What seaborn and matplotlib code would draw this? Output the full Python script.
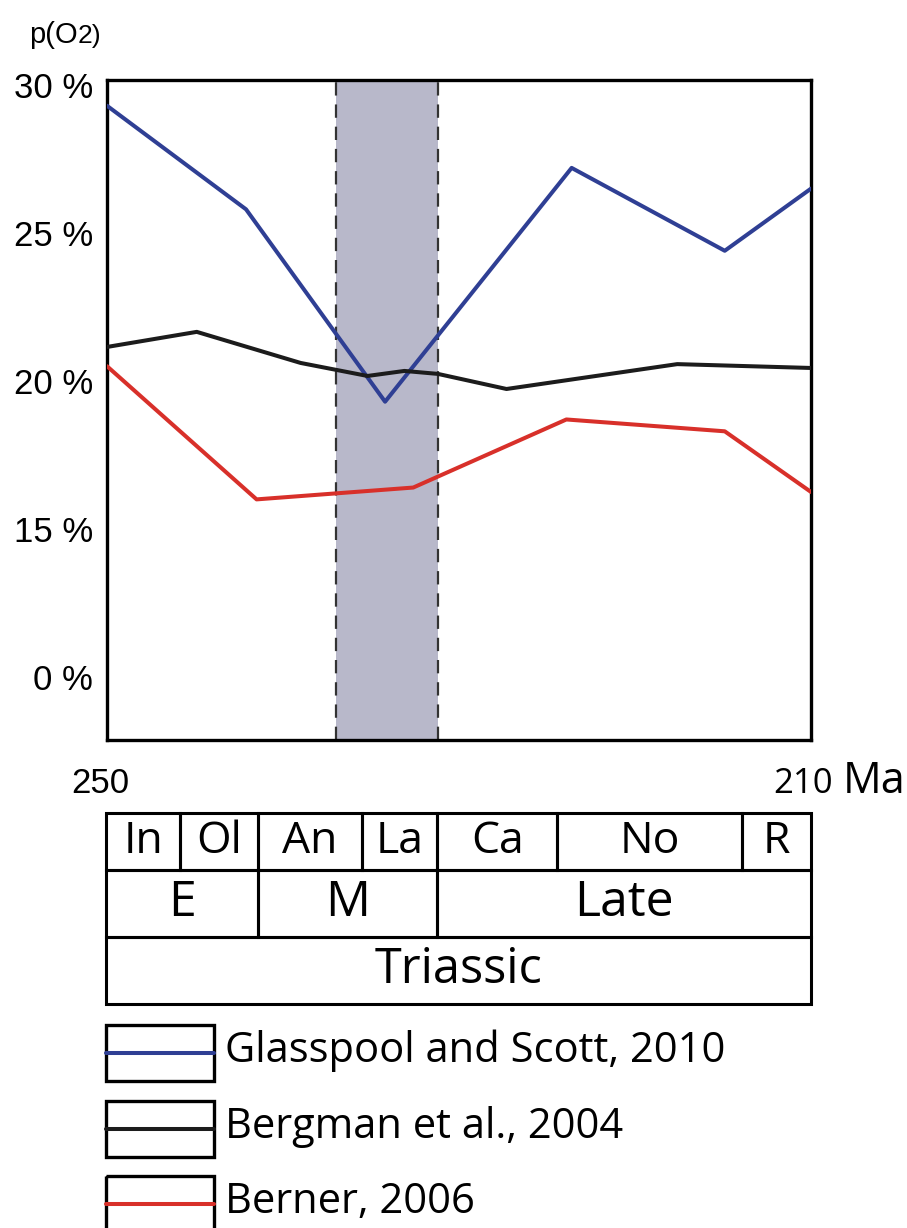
import numpy as np
import pandas as pd
import matplotlib
matplotlib.use("Agg")
import matplotlib.pyplot as plt
import seaborn as sns
from matplotlib.patches import Rectangle

# O2 curves, age in Ma, value in %
glasspool_age = [250, 242.1, 234.2, 223.6, 214.9, 210]
glasspool_o2 = [29.3, 25.8, 19.3, 27.2, 24.4, 26.5]
bergman_age = [250, 244.9, 239.0, 235.2, 233.1, 231.2, 227.3, 217.6, 210]
bergman_o2 = [21.15, 21.66, 20.61, 20.17, 20.34, 20.24, 19.73, 20.57, 20.44]
berner_age = [250, 241.5, 232.6, 223.9, 214.9, 210]
berner_o2 = [20.5, 16.0, 16.4, 18.7, 18.3, 16.25]

sources = ["Glasspool and Scott, 2010", "Bergman et al., 2004", "Berner, 2006"]
colors = ["#2f3f94", "#1c1c1c", "#d8302a"]

# y axis is broken: the "0 %" tick sits one step below 15 %
ytick_pos = [10, 15, 20, 25, 30]
ytick_labels = ["0 %", "15 %", "20 %", "25 %", "30 %"]

# highlighted interval (Ma)
band = [237.0, 231.2]

# time scale
stage_names = ["In", "Ol", "An", "La", "Ca", "No", "R"]
stage_bounds = [250, 245.8, 241.4, 235.5, 231.2, 224.4, 213.9, 210]
epoch_names = ["E", "M", "Late"]
epoch_bounds = [250, 241.4, 231.2, 210]
period_names = ["Triassic"]
period_bounds = [250, 210]

sns.set_style("white")
plt.rcParams["font.family"] = ["Liberation Sans", "DejaVu Sans"]
plt.rcParams["text.color"] = "black"
label_font = ["Open Sans", "DejaVu Sans"]

W, H = 907, 1228
fig = plt.figure(figsize=(W / 100, H / 100), dpi=100)

# overlay in pixel coords for loose labels and the legend
over = fig.add_axes([0, 0, 1, 1])
over.set_xlim(0, W)
over.set_ylim(H, 0)
over.axis("off")

ax = fig.add_axes([107 / W, 1 - 740 / H, 704 / W, 660 / H])
ax.axvspan(band[0], band[1], color="#b8b8ca", lw=0, zorder=0)
for b in band:
    ax.axvline(b, color="#333333", lw=1.6, dashes=(6, 4), zorder=1)

df = pd.concat([
    pd.DataFrame({"age": glasspool_age, "o2": glasspool_o2, "source": sources[0]}),
    pd.DataFrame({"age": bergman_age, "o2": bergman_o2, "source": sources[1]}),
    pd.DataFrame({"age": berner_age, "o2": berner_o2, "source": sources[2]}),
])
sns.lineplot(data=df, x="age", y="o2", hue="source", palette=dict(zip(sources, colors)),
             estimator=None, sort=False, linewidth=2.9, legend=False, ax=ax, zorder=3)

ax.set_xlim(250, 210)
ax.set_ylim(7.87, 30.17)
ax.set_yticks(ytick_pos)
ax.set_yticklabels(ytick_labels)
ax.set_xticks([])
ax.set_xlabel("")
ax.set_ylabel("")
ax.tick_params(axis="y", direction="out", length=9, width=2, pad=1, labelsize=25, colors="black")
for s in ax.spines.values():
    s.set_visible(True)
    s.set_color("black")
    s.set_linewidth(2.4)

# axis annotations
over.text(29, 43, "p(O", fontsize=21, ha="left", va="baseline")
over.text(78, 43, "2)", fontsize=19, ha="left", va="baseline")
over.text(71, 793, "250", fontsize=25, ha="left", va="baseline")
over.text(773, 793, "210", fontsize=25, family=label_font, ha="left", va="baseline")
over.text(843, 793, "Ma", fontsize=31, family=label_font, ha="left", va="baseline")

# time scale table
tab = fig.add_axes([106 / W, 1 - 1004 / H, 705 / W, 191 / H])
tab.set_xlim(250, 210)
tab.set_ylim(0, 1)
tab.axis("off")
rows = [
    (stage_names, stage_bounds, 0.702, 1.0, 32),
    (epoch_names, epoch_bounds, 0.351, 0.702, 36),
    (period_names, period_bounds, 0.0, 0.351, 35),
]
for names, bounds, y0, y1, fs in rows:
    for i, name in enumerate(names):
        a0, a1 = bounds[i], bounds[i + 1]
        tab.add_patch(Rectangle((a0, y0), a1 - a0, y1 - y0, fill=False,
                                edgecolor="black", lw=2.2, clip_on=False))
        tab.text((a0 + a1) / 2, (y0 + y1) / 2, name, fontsize=fs, family=label_font,
                 ha="center", va="center")

# legend
box_tops = [1025, 1101, 1176]
for top, name, col in zip(box_tops, sources, colors):
    over.add_patch(Rectangle((106, top), 108, 56, fill=False, edgecolor="black", lw=2.4))
    over.plot([106, 214], [top + 28, top + 28], color=col, lw=2.9)
    over.text(225, top + 26, name, fontsize=30, family=label_font, ha="left", va="center")

fig.savefig("out.png", dpi=100)
